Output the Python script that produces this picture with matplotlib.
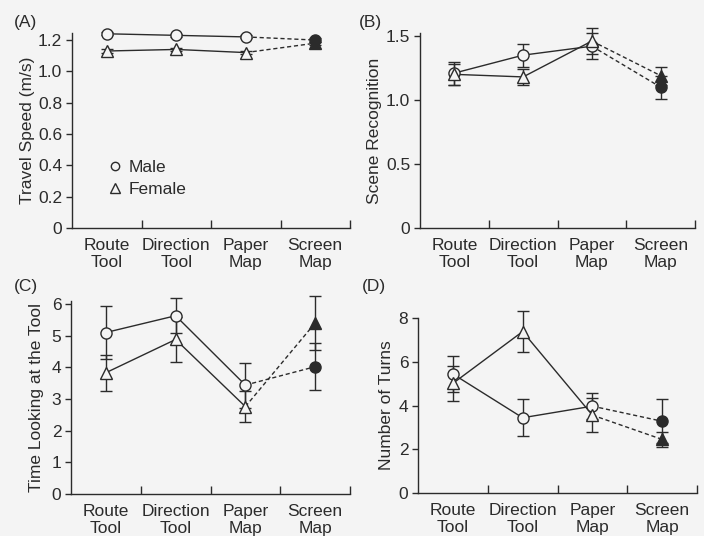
import numpy as np
import matplotlib.pyplot as plt

plt.rcParams['font.family'] = ['Liberation Sans', 'DejaVu Sans']

# ----------------- DATA -----------------
categories = ["Route\nTool", "Direction\nTool", "Paper\nMap", "Screen\nMap"]

# (A) travel speed
speed_male = [1.24, 1.23, 1.22, 1.20]
speed_male_err = [0.01, 0.01, 0.01, 0.01]
speed_female = [1.13, 1.14, 1.12, 1.18]
speed_female_err = [0.01, 0.01, 0.01, 0.01]

# (B) scene recognition
scene_male = [1.21, 1.35, 1.42, 1.10]
scene_male_err = [0.09, 0.09, 0.10, 0.09]
scene_female = [1.20, 1.18, 1.46, 1.19]
scene_female_err = [0.08, 0.065, 0.10, 0.07]

# (C) time looking at the tool
look_male = [5.10, 5.63, 3.44, 4.02]
look_male_err = [0.84, 0.55, 0.71, 0.74]
look_female = [3.83, 4.88, 2.76, 5.40]
look_female_err = [0.57, 0.72, 0.50, 0.86]

# (D) number of turns
turns_male = [5.44, 3.44, 3.97, 3.28]
turns_male_err = [0.83, 0.84, 0.58, 1.00]
turns_female = [5.01, 7.38, 3.56, 2.45]
turns_female_err = [0.80, 0.94, 0.78, 0.35]

BG = "#f4f4f4"
INK = "#2b2b2b"
FS = 12.5


def panel(ax, male, male_err, female, female_err, ytop, yticks, yticklabels,
          ylabel, label_x):
    x = np.arange(len(categories)) + 0.5
    ax.set_facecolor(BG)

    for vals, errs, mk, ms in [(male, male_err, "o", 8), (female, female_err, "^", 9)]:
        vals = np.array(vals)
        eb = ax.errorbar(x, vals, yerr=errs, fmt="none", ecolor=INK,
                         elinewidth=1, capsize=4, capthick=1, zorder=2)
        for art in list(eb.lines[1]) + list(eb.lines[2]):
            art.set_clip_on(False)
        ax.plot(x[:3], vals[:3], "-", color=INK, lw=1, zorder=1)
        ax.plot(x[2:], vals[2:], linestyle=(0, (3, 2)), color=INK, lw=1, zorder=1)
        ax.plot(x[:3], vals[:3], mk, ms=ms, mfc=BG, mec=INK, mew=1,
                ls="none", zorder=3, clip_on=False)
        ax.plot(x[3:], vals[3:], mk, ms=ms, mfc=INK, mec=INK, mew=1,
                ls="none", zorder=3, clip_on=False)

    ax.set_xlim(0, 4)
    ax.set_ylim(0, ytop)
    ax.set_xticks([1, 2, 3, 4])
    ax.set_xticklabels([])
    ax.set_xticks(x, minor=True)
    ax.set_xticklabels(categories, minor=True, fontsize=FS, color=INK,
                       linespacing=1.15)
    ax.tick_params(axis="x", which="major", direction="in", length=6,
                   width=1, color=INK)
    ax.tick_params(axis="x", which="minor", length=0, pad=7)
    ax.set_yticks(yticks)
    ax.set_yticklabels(yticklabels, fontsize=FS, color=INK)
    ax.tick_params(axis="y", direction="out", length=4, width=1,
                   color=INK, pad=3)

    for s in ["top", "right"]:
        ax.spines[s].set_visible(False)
    for s in ["left", "bottom"]:
        ax.spines[s].set_color(INK)
        ax.spines[s].set_linewidth(1)

    ax.set_ylabel(ylabel, fontsize=FS, color=INK)
    ax.yaxis.set_label_coords(label_x, 0.5)


fig = plt.figure(figsize=(7.04, 5.36), dpi=100)
fig.patch.set_facecolor(BG)

W, H = 704.0, 536.0


def axes_px(left, right, top, bottom):
    return fig.add_axes([left / W, 1 - bottom / H, (right - left) / W,
                         (bottom - top) / H])


axA = axes_px(72, 350, 33, 228)
axB = axes_px(420, 695, 33, 228)
axC = axes_px(71, 350, 301, 494)
axD = axes_px(418, 697, 318, 493)

panel(axA, speed_male, speed_male_err, speed_female, speed_female_err,
      1.245, [0, 0.2, 0.4, 0.6, 0.8, 1.0, 1.2],
      ["0", "0.2", "0.4", "0.6", "0.8", "1.0", "1.2"],
      "Travel Speed (m/s)", -0.133)
panel(axB, scene_male, scene_male_err, scene_female, scene_female_err,
      1.523, [0, 0.5, 1.0, 1.5], ["0", "0.5", "1.0", "1.5"],
      "Scene Recognition", -0.139)
panel(axC, look_male, look_male_err, look_female, look_female_err,
      6.095, [0, 1, 2, 3, 4, 5, 6], ["0", "1", "2", "3", "4", "5", "6"],
      "Time Looking at the Tool", -0.096)
panel(axD, turns_male, turns_male_err, turns_female, turns_female_err,
      8.0, [0, 2, 4, 6, 8], ["0", "2", "4", "6", "8"],
      "Number of Turns", -0.085)

# panel letters
for letter, px, py in [("(A)", 14, 22), ("(B)", 359, 22),
                       ("(C)", 14, 286), ("(D)", 362, 286)]:
    fig.text(px / W, 1 - py / H, letter, fontsize=FS, color=INK,
             ha="left", va="center")

# legend in panel A
h_male, = axA.plot([], [], "o", ms=6, mfc=BG, mec=INK, mew=1, ls="none")
h_female, = axA.plot([], [], "^", ms=7, mfc=BG, mec=INK, mew=1, ls="none")
leg = axA.legend([h_male, h_female], ["Male", "Female"], loc="upper left",
                 bbox_to_anchor=(0.075, 0.43), frameon=False, fontsize=FS,
                 handlelength=0.8, handletextpad=0.35, labelspacing=0.4)
for t in leg.get_texts():
    t.set_color(INK)

fig.savefig("out.png", dpi=100, facecolor=BG)
